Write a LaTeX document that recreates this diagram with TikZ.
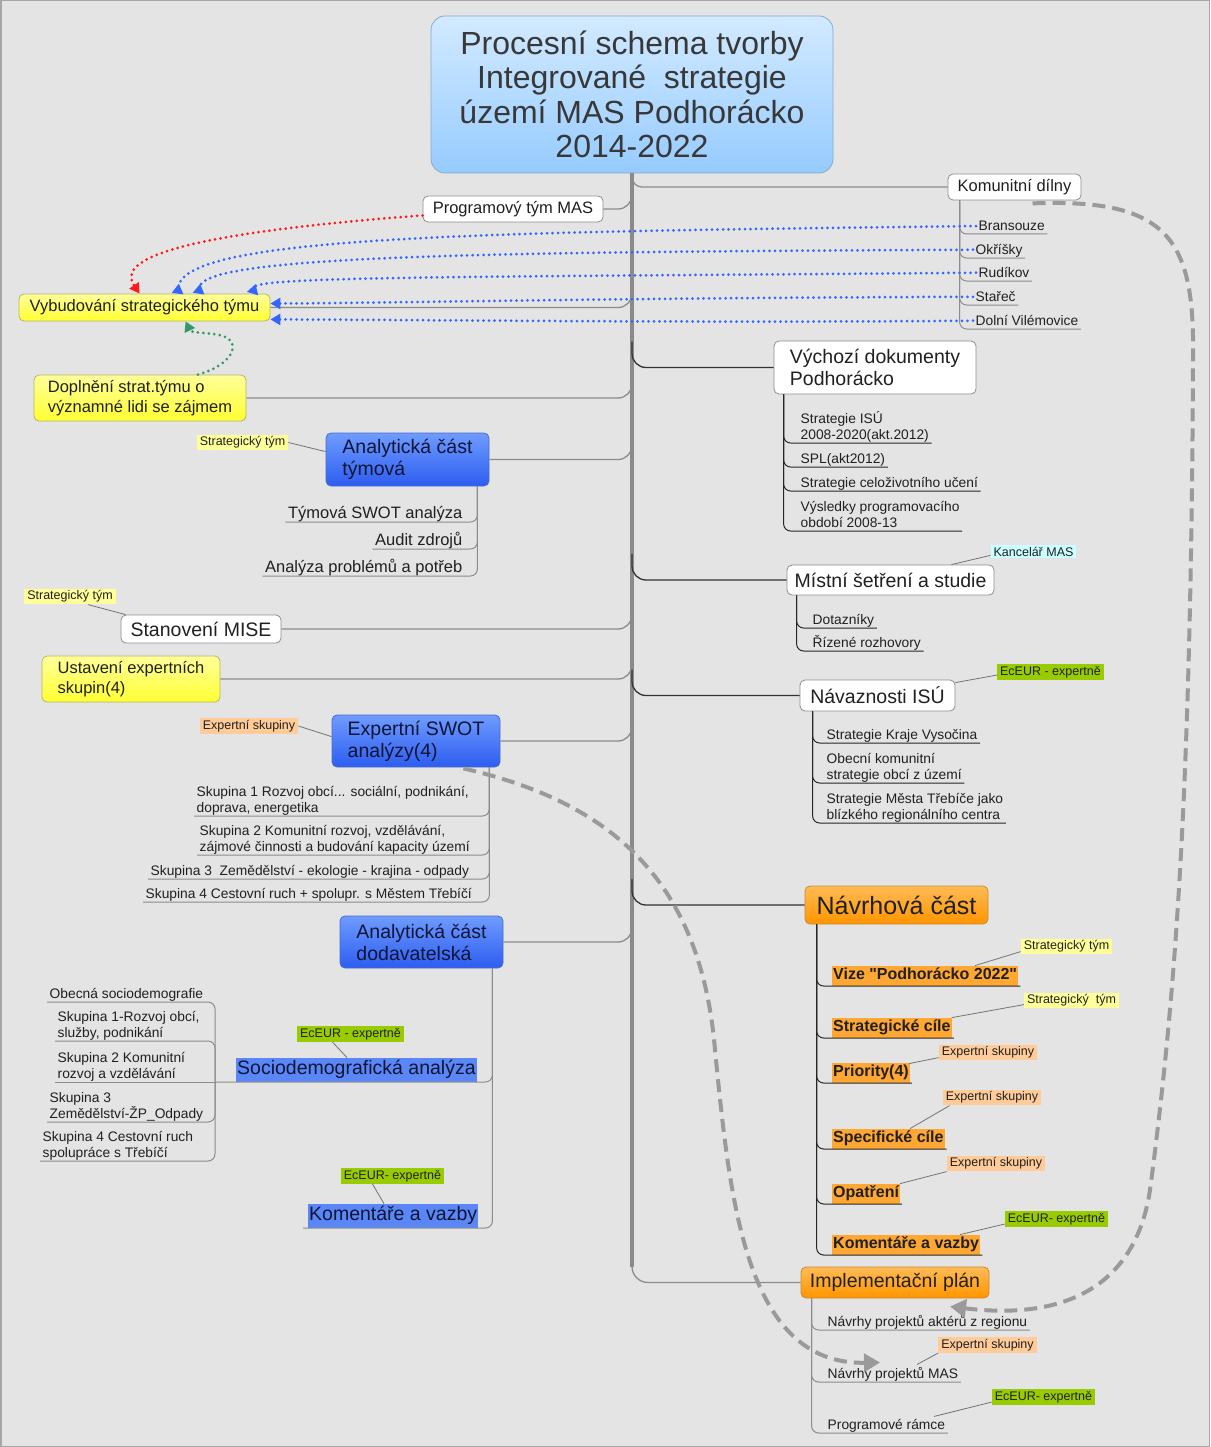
\documentclass[tikz,border=0pt]{standalone}
\usepackage{fontspec}
\setmainfont{Liberation Sans}
\newfontfamily\plainsans{Liberation Sans}
\usetikzlibrary{calc}
\usetikzlibrary{arrows.meta}

\definecolor{paper}{HTML}{E4E4E4}
\definecolor{ink}{HTML}{202020}
\definecolor{navy}{HTML}{0E1535}
\definecolor{trunkgray}{HTML}{8A8A8A}
\definecolor{linegray}{HTML}{8C8C8C}
\definecolor{boxgray}{HTML}{8E8E8E}
\definecolor{skytop}{HTML}{D2EAFF}
\definecolor{skybot}{HTML}{96CBFF}
\definecolor{skyline}{HTML}{86AACC}
\definecolor{yeltop}{HTML}{FFFF9A}
\definecolor{yelbot}{HTML}{FFFF33}
\definecolor{yelline}{HTML}{B5B56A}
\definecolor{bluetop}{HTML}{6F9BFF}
\definecolor{bluebot}{HTML}{2D5DF0}
\definecolor{blueline}{HTML}{4B6CC8}
\definecolor{orgtop}{HTML}{FFBB55}
\definecolor{orgbot}{HTML}{FF9500}
\definecolor{orgline}{HTML}{C98A35}
\definecolor{hiorange}{HTML}{FFA733}
\definecolor{hiblue}{HTML}{5A86F6}
\definecolor{tagyellow}{HTML}{FFFF99}
\definecolor{tagpeach}{HTML}{FFCC99}
\definecolor{taggreen}{HTML}{99CC00}
\definecolor{tagcyan}{HTML}{CCFFFF}
\definecolor{dotblue}{HTML}{3366FF}
\definecolor{dotred}{HTML}{FF1A1A}
\definecolor{dotgreen}{HTML}{339966}
\definecolor{dashgray}{HTML}{9A9A9A}

\begin{document}
\begin{tikzpicture}[
		x=1pt,y=-1pt,
		every node/.style={text=ink},
		ftag/.style={font=\fontsize{12.5}{14}\selectfont},
		fsmall/.style={font=\fontsize{13.8}{16.5}\selectfont},
		fmid/.style={font=\fontsize{16.5}{20}\selectfont},
		fbig/.style={font=\fontsize{19.5}{22}\selectfont},
		fhuge/.style={font=\fontsize{25}{28}\selectfont},
		box/.style={rounded corners=5pt,inner sep=0pt,align=left,line width=0.8pt},
		titlebox/.style={box,rounded corners=14pt,draw=skyline,top color=skytop,bottom color=skybot,align=center,text=black!78,font=\fontsize{32}{34.5}\selectfont},
		plainbox/.style={box,draw=boxgray,fill=white},
		yellowbox/.style={box,draw=yelline,top color=yeltop,bottom color=yelbot},
		bluebox/.style={box,draw=blueline,top color=bluetop,bottom color=bluebot,text=navy},
		orangebox/.style={box,draw=orgline,top color=orgtop,bottom color=orgbot},
		tag/.style={fill=#1,inner xsep=3pt,inner ysep=2pt,ftag},
		leaf/.style={anchor=south west,inner xsep=2.5pt,inner ysep=3pt,text depth=0pt,align=left,fsmall},
		rleaf/.style={leaf,anchor=south east},
		hilite/.style={anchor=south west,fill=hiorange,inner xsep=1pt,inner ysep=2pt,text height=12pt,text depth=4pt,font=\plainsans\fontsize{16}{19}\selectfont\bfseries},
		bluehilite/.style={anchor=south west,fill=hiblue,inner xsep=1pt,inner ysep=2pt,text height=15pt,text depth=5pt,text=navy,fbig},
		trunk/.style={draw=trunkgray,line width=4.5pt},
		branch/.style={draw=linegray,line width=1.3pt,rounded corners=14pt},
		darkbranch/.style={branch,draw=black!80},
		twig/.style={draw=linegray,line width=1pt,rounded corners=7pt},
		darktwig/.style={twig,draw=black!85},
		tagline/.style={draw=black!55,line width=0.8pt},
		relation/.style={draw=#1,line width=3pt,line cap=round,dash pattern=on 0pt off 5.5pt},
		dasharrow/.style={draw=dashgray,line width=4pt,dash pattern=on 13pt off 7pt,-{Triangle[length=16pt,width=18pt]}}
		]
		\useasboundingbox (0,0) rectangle (1210,1447);
		\fill[paper] (0,0) rectangle (1210,1447);
		\draw[gray!70,line width=1.5pt] (0.75,0.75) rectangle (1209.25,1446.25);

		% main topic
		\node[titlebox,minimum width=402pt,minimum height=157pt] (title) at (632,94.5) {Procesní schema tvorby\\Integrované\ \ strategie\\území MAS Podhorácko\\2014-2022};

		% left side
		\node[plainbox,fmid,minimum width=180pt,minimum height=26pt] (prog) at (513,209) {Programový tým MAS};
		\node[yellowbox,fmid,minimum width=251pt,minimum height=27pt] (vyb) at (144.5,307.5) {Vybudování strategického týmu};
		\node[yellowbox,fmid,minimum width=212pt,minimum height=46pt] (dopl) at (140,398) {Doplnění strat.týmu o\\významné lidi se zájmem};
		\node[bluebox,fbig,minimum width=163pt,minimum height=53pt] (ana1) at (407.5,459.5) {Analytická část\\týmová};
		\node[plainbox,fbig,minimum width=160pt,minimum height=28pt] (mise) at (201,629) {Stanovení MISE};
		\node[yellowbox,fmid,minimum width=178pt,minimum height=46pt] (ust) at (131,679) {Ustavení expertních\\skupin(4)};
		\node[bluebox,fbig,minimum width=168pt,minimum height=52pt] (swot) at (416,741) {Expertní SWOT\\analýzy(4)};
		\node[bluebox,fbig,minimum width=163pt,minimum height=52pt] (dod) at (421.5,942) {Analytická část\\dodavatelská};

		\node[rleaf,fmid] (tswot) at (465,522) {Týmová SWOT analýza};
		\node[rleaf,fmid] (audit) at (465,549) {Audit zdrojů};
		\node[rleaf,fmid] (probl) at (465,576) {Analýza problémů a potřeb};

		\node[leaf] (sk1) at (194,816) {Skupina 1 Rozvoj obcí... sociální, podnikání,\\doprava, energetika};
		\node[leaf] (sk2) at (197,855) {Skupina 2 Komunitní rozvoj, vzdělávání,\\zájmové činnosti a budování kapacity území};
		\node[leaf] (sk3) at (148,879) {Skupina 3\ \ Zemědělství - ekologie - krajina - odpady};
		\node[leaf] (sk4) at (143,902) {Skupina 4 Cestovní ruch + spolupr. s Městem Třebíčí};

		\node[bluehilite] (socio) at (236,1082) {Sociodemografická analýza};
		\node[bluehilite] (kom1) at (308,1228) {Komentáře a vazby};
		\coordinate (sj) at ($(socio.south west)+(-21,0)$);

		\node[leaf] (obec) at (47,1002) {Obecná sociodemografie};
		\node[leaf] (ss1) at (55,1041) {Skupina 1-Rozvoj obcí,\\služby, podnikání};
		\node[leaf] (ss2) at (55,1082) {Skupina 2 Komunitní\\rozvoj a vzdělávání};
		\node[leaf] (ss3) at (47,1122) {Skupina 3\\Zemědělství-ŽP\_Odpady};
		\node[leaf] (ss4) at (40,1161) {Skupina 4 Cestovní ruch\\spolupráce s Třebíčí};

		% right side
		\node[plainbox,fmid,minimum width=133pt,minimum height=26pt] (komd) at (1014.5,187) {Komunitní dílny};
		\node[plainbox,fbig,minimum width=202pt,minimum height=53pt] (vych) at (875,367.5) {Výchozí dokumenty\\Podhorácko};
		\node[plainbox,fbig,minimum width=207pt,minimum height=30pt] (mist) at (890.5,580) {Místní šetření a studie};
		\node[plainbox,fbig,minimum width=155pt,minimum height=31pt] (navaz) at (877.5,695.5) {Návaznosti ISÚ};
		\node[orangebox,fhuge,minimum width=183pt,minimum height=38pt] (navrh) at (896.5,905) {Návrhová část};
		\node[orangebox,fbig,minimum width=188pt,minimum height=31pt] (impl) at (895,1282.5) {Implementační plán};

		\node[leaf] (br) at (976,234) {Bransouze};
		\node[leaf] (okr) at (973,258) {Okříšky};
		\node[leaf] (rud) at (976,281) {Rudíkov};
		\node[leaf] (star) at (973,305) {Stařeč};
		\node[leaf] (dol) at (973,329) {Dolní Vilémovice};

		\node[leaf] (isu) at (798,443) {Strategie ISÚ\\2008-2020(akt.2012)};
		\node[leaf] (spl) at (798,467) {SPL(akt2012)};
		\node[leaf] (celo) at (798,491) {Strategie celoživotního učení};
		\node[leaf] (vysl) at (798,531) {Výsledky programovacího\\období 2008-13};

		\node[leaf] (dotaz) at (810,628) {Dotazníky};
		\node[leaf] (rozh) at (810,651) {Řízené rozhovory};

		\node[leaf] (kraj) at (824,743) {Strategie Kraje Vysočina};
		\node[leaf] (obk) at (824,783) {Obecní komunitní\\strategie obcí z území};
		\node[leaf] (treb) at (824,823) {Strategie Města Třebíče jako\\blízkého regionálního centra};

		\node[hilite] (vize) at (832,986) {Vize "Podhorácko 2022"};
		\node[hilite] (cile) at (832,1038) {Strategické cíle};
		\node[hilite] (prio) at (832,1083) {Priority(4)};
		\node[hilite] (spec) at (832,1149) {Specifické cíle};
		\node[hilite] (opat) at (832,1204) {Opatření};
		\node[hilite] (kom2) at (832,1255) {Komentáře a vazby};

		\node[leaf] (npa) at (825,1330) {Návrhy projektů aktérů z regionu};
		\node[leaf] (nmas) at (825,1382) {Návrhy projektů MAS};
		\node[leaf] (pram) at (825,1433) {Programové rámce};

		% who works on it
		\node[tag=tagyellow] (tst1) at (242.5,442.5) {Strategický tým};
		\node[tag=tagyellow] (tst2) at (70,596.5) {Strategický tým};
		\node[tag=tagpeach] (tes1) at (249,726) {Expertní skupiny};
		\node[tag=taggreen] (tec1) at (350.5,1034) {EcEUR - expertně};
		\node[tag=taggreen] (tec2) at (392.5,1176) {EcEUR- expertně};
		\node[tag=tagcyan] (tkm) at (1033.5,551.5) {Kancelář MAS};
		\node[tag=taggreen] (tec3) at (1050.5,672) {EcEUR - expertně};
		\node[tag=tagyellow] (tst3) at (1066.5,946.5) {Strategický tým};
		\node[tag=tagyellow] (tst4) at (1071.5,1000.5) {Strategický\ \ tým};
		\node[tag=tagpeach] (tes2) at (988,1052.5) {Expertní skupiny};
		\node[tag=tagpeach] (tes3) at (992,1097.5) {Expertní skupiny};
		\node[tag=tagpeach] (tes4) at (996,1163.5) {Expertní skupiny};
		\node[tag=taggreen] (tec4) at (1056.5,1219) {EcEUR- expertně};
		\node[tag=tagpeach] (tes5) at (987.5,1345) {Expertní skupiny};
		\node[tag=taggreen] (tec5) at (1043.5,1397) {EcEUR- expertně};

		% trunk and branches
		\draw[trunk] (title.south) -- ($(title.south |- impl.west)+(0,-16)$);
		\draw[branch,rounded corners=10pt] (title.south) |- (komd.west);
		\foreach \n in {prog,vyb,dopl,ana1,mise,ust,swot,dod}
			\draw[branch] ($(title.south |- \n.east)+(0,-22)$) |- (\n.east);
		\foreach \n in {vych,mist,navaz,navrh}
			\draw[darkbranch] ($(title.south |- \n.west)+(0,-26)$) |- (\n.west);
		\draw[branch,rounded corners=16pt] ($(title.south |- impl.west)+(0,-40)$) |- (impl.west);

		% sub topics
		\foreach \c in {br,okr,rud,star,dol}
			\draw[twig] ($(komd.south west)+(12,0)$) |- (\c.south east);
		\foreach \c in {isu,spl,celo,vysl}
			\draw[darktwig] ($(vych.south west)+(10,0)$) |- (\c.south east);
		\foreach \c in {dotaz,rozh}
			\draw[darktwig] ($(mist.south west)+(10,0)$) |- (\c.south east);
		\foreach \c in {kraj,obk,treb}
			\draw[darktwig] ($(navaz.south west)+(13,0)$) |- (\c.south east);
		\foreach \c in {vize,cile,prio,spec,opat,kom2}
			\draw[darktwig] ($(navrh.south west)+(12,0)$) |- ($(\c.south east)+(2,0)$);
		\foreach \c in {npa,nmas,pram}
			\draw[twig] ($(impl.south west)+(11,0)$) |- (\c.south east);
		\foreach \c in {tswot,audit,probl}
			\draw[twig] ($(ana1.south east)+(-12,0)$) |- (\c.south west);
		\foreach \c in {sk1,sk2,sk3,sk4}
			\draw[twig] ($(swot.south east)+(-11,0)$) |- (\c.south west);
		\draw[twig] ($(dod.south east)+(-11,0)$) |- (sj);
		\draw[twig] ($(dod.south east)+(-11,0)$) |- ($(kom1.south west)+(-5,0)$);
		\foreach \c in {obec,ss1,ss3,ss4}
			\draw[twig] (sj) |- (\c.south west);
		\draw[twig] (sj) -- (ss2.south west);

		% tags
		\draw[tagline] (tst1.east) -- ($(ana1.north west)+(0,19)$);
		\draw[tagline] ($(tst2.south)+(18,0)$) -- ($(mise.north west)+(5,0)$);
		\draw[tagline] (tes1.east) -- ($(swot.north west)+(0,22)$);
		\draw[tagline] ($(tec1.south)+(-18,0)$) -- ($(socio.north west)+(111,0)$);
		\draw[tagline] ($(tec2.south)+(-20,0)$) -- ($(kom1.north west)+(76,0)$);
		\draw[tagline] ($(tkm.south west)+(0,-3)$) -- ($(mist.north east)+(-43,0)$);
		\draw[tagline] ($(tec3.south west)+(0,-5)$) -- ($(navaz.north east)+(0,3)$);
		\draw[tagline] ($(tst3.south west)+(0,-3)$) -- ($(vize.north west)+(143,0)$);
		\draw[tagline] ($(tst4.south west)+(0,-4)$) -- (cile.north east);
		\draw[tagline] ($(tes2.south west)+(0,-3)$) -- ($(prio.north east)+(-1,1)$);
		\draw[tagline] ($(tes3.south west)+(7,0)$) -- ($(spec.north west)+(78,0)$);
		\draw[tagline] (tes4.south west) -- (opat.north east);
		\draw[tagline] ($(tec4.south west)+(0,-3)$) -- ($(kom2.north west)+(128,0)$);
		\draw[tagline] (tes5.south west) -- ($(nmas.north west)+(92,0)$);
		\draw[tagline] ($(tec5.south west)+(0,-3)$) -- ($(pram.north west)+(109,0)$);

		% relations
		\draw[relation=dotblue,-{Triangle[reversed,length=10pt,width=11pt]}] (br.west) .. controls (500,232) and (185,235) .. ($(vyb.north west)+(159,0)$);
		\draw[relation=dotblue,-{Triangle[reversed,length=10pt,width=11pt]}] (okr.west) .. controls (500,252) and (205,255) .. ($(vyb.north west)+(180,0)$);
		\draw[relation=dotblue,-{Triangle[reversed,length=10pt,width=11pt]}] (rud.west) .. controls (500,277) and (258,276) .. ($(vyb.north west)+(234,0)$);
		\draw[relation=dotblue,-{Triangle[length=10pt,width=11pt]}] (star.west) .. controls (600,298) and (400,303) .. ($(vyb.east)+(0,-4)$);
		\draw[relation=dotblue,-{Triangle[length=10pt,width=11pt]}] (dol.west) .. controls (700,323) and (450,320) .. ($(vyb.south east)+(0,-2)$);
		\draw[relation=dotred,-{Triangle[length=10pt,width=11pt]}] ($(prog.south west)+(0,-7)$) .. controls (160,235) and (118,262) .. ($(vyb.north west)+(121,0)$);
		\draw[relation=dotgreen,-{Triangle[length=10pt,width=11pt]}] ($(dopl.north)+(58,0)$) .. controls (225,367) and (236,352) .. (232,343) .. controls (226,330) and (192,335) .. ($(vyb.south west)+(167,0)$);

		\draw[dasharrow] ($(komd.south)+(18,3)$) .. controls (1170,198) and (1195,240) .. (1193,360) .. controls (1191,800) and (1175,1000) .. (1150,1190) .. controls (1135,1290) and (1060,1320) .. ($(npa.north west)+(125,-6)$);
		\draw[dasharrow] ($(swot.south east)+(-37,1)$) .. controls (600,800) and (700,870) .. (715,1050) .. controls (730,1200) and (745,1365) .. ($(nmas.north west)+(55,-2)$);
	\end{tikzpicture}
\end{document}
